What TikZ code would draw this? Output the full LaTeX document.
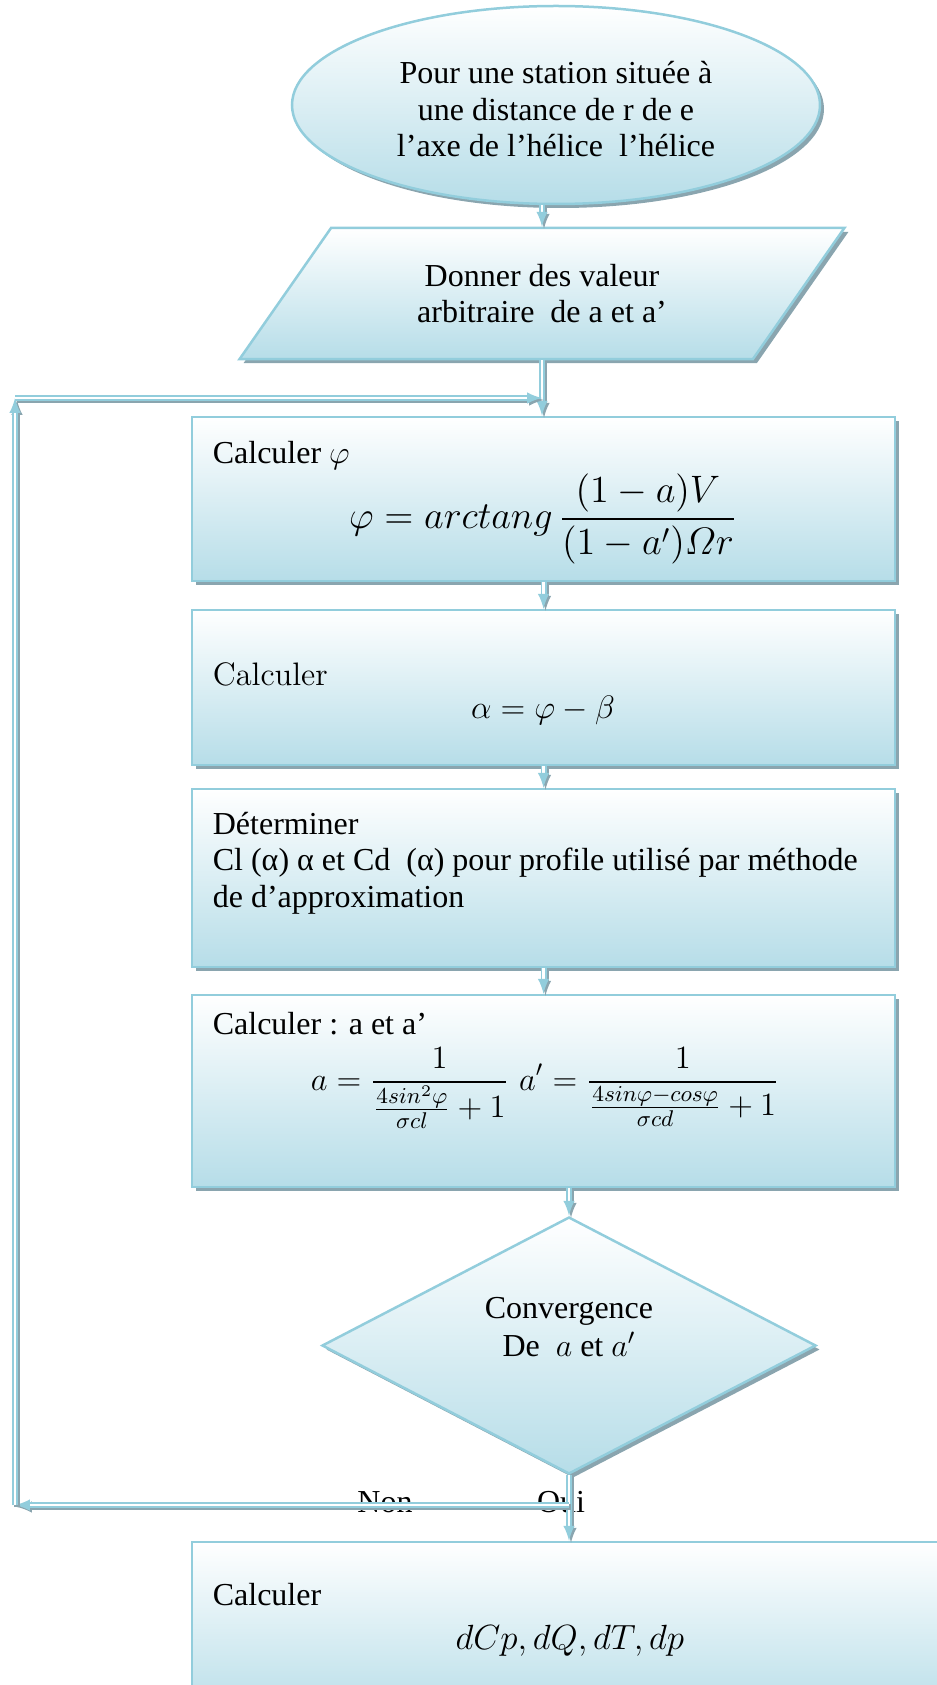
\RequirePackage{fix-cm}
\documentclass[tikz,border=0pt]{standalone}
\usepackage{amsmath}
\usepackage{fontspec}
\newfontfamily\timesfont{Liberation Serif}
\usetikzlibrary{shapes.geometric,shadows}

\definecolor{lineblue}{HTML}{92CDDC}
\definecolor{boxblue}{HTML}{B6DDE8}
\definecolor{shadowgrey}{HTML}{8AA5AF}

\begin{document}
\begin{tikzpicture}[x=0.4pt, y=-0.4pt, >=latex,
  every node/.style={font=\timesfont\fontsize{12.8}{14.6}\selectfont},
  flow/.style={draw=lineblue, line width=1pt, top color=white, bottom color=boxblue,
    drop shadow={shadow xshift=1.6pt, shadow yshift=-1.6pt, fill=shadowgrey, opacity=1}},
  bloc/.style={flow, rectangle, minimum width=281.2pt, inner sep=0pt},
  link/.style={->, draw=lineblue, double=white, double distance=1pt, line width=0.7pt,
    preaction={draw=shadowgrey, double=shadowgrey, transform canvas={shift={(0.8pt,-0.8pt)}}}},
  eq/.style={font=\fontsize{14}{17}\selectfont},
  lbl/.style={anchor=west, align=left}]
  \clip (0,0) rectangle (937,1685);

  % shapes of the flow chart
  \node[flow, ellipse, minimum width=211.2pt, minimum height=79.2pt, inner sep=0pt, align=center] (start) at (556,105)
    {\rule{0pt}{12.5pt}Pour une station située à\\une distance de r de e\\l’axe de l’hélice\ \ l’hélice};
  \node[flow, trapezium, trapezium left angle=47.5, trapezium right angle=132.5, trapezium stretches=true,
    minimum width=242.4pt, minimum height=52.4pt, inner sep=0pt, align=center] (para) at (542,293.5)
    {Donner des valeur\\arbitraire\ \ de a et a’};
  \node[bloc, minimum height=65.6pt] (calc1) at (543.5,499) {};
  \node[bloc, minimum height=62pt] (calc2) at (543.5,687.5) {};
  \node[bloc, minimum height=71.2pt] (det) at (543.5,878) {};
  \node[bloc, minimum height=76.8pt] (calc3) at (543.5,1091) {};
  \node[flow, diamond, aspect=1.92, minimum width=197.6pt, minimum height=102.8pt, inner sep=0pt] (conv) at (569,1345.5) {};
  \node[bloc, minimum width=307.2pt, minimum height=71.2pt] (fin) at (576,1631) {};

  % texts and formulas
  \node[lbl] (t1) at (204,456) {Calculer $\varphi$};
  \node[eq, font=\fontsize{15.3}{18}\selectfont] (f1) at (543,519) {$\displaystyle \varphi = arctang\,\frac{(1-a)V}{(1-a')\varOmega r}$};
  \node[lbl, font=\rmfamily\fontsize{13}{15}\selectfont] (t2) at (204,674) {Calculer};
  \node[eq, font=\fontsize{13}{16}\selectfont] (f2) at (543,710) {$\alpha = \varphi - \beta$};
  \node[lbl] (t3) at (204,863) {Déterminer\\Cl (α) α et Cd\ \ (α) pour profile utilisé par méthode\\de d’approximation};
  \node[lbl] (t4) at (204,1024) {Calculer : a et a’};
  \node[eq, font=\fontsize{13}{16}\selectfont] (f4) at (545,1088) {$\displaystyle a = \frac{1}{\frac{4sin^2\varphi}{\sigma cl}+1}\ a' = \frac{1}{\frac{4sin\varphi-cos\varphi}{\sigma cd}+1}$};
  \node[align=center, font=\timesfont\fontsize{12.8}{15.2}\selectfont] (t5) at (569,1327) {Convergence\\De\ \ $a$ et $a'$};
  \node (non) at (385,1502) {Non};
  \node (oui) at (561,1502) {Oui};
  \node[lbl] (t6) at (204,1595) {Calculer};
  \node[eq] (f6) at (570,1641) {$dCp, dQ, dT, dp$};

  % connectors
  \coordinate (nonend) at (15,1505);
  \coordinate (loopup) at (15,398);
  \draw[link] (start.south -| para.north) -- (para.north);
  \draw[link] (para.south) -- (para.south |- calc1.north);
  \draw[link] (calc1.south) -- (calc2.north);
  \draw[link] (calc2.south) -- (det.north);
  \draw[link] (det.south) -- (calc3.north);
  \draw[link] (calc3.south -| conv.north) -- (conv.north);
  \draw[link] (conv.south) -- (conv.south |- fin.north);
  \draw[link] (conv.south |- nonend) -- (nonend);
  \draw[link] (nonend) -- (loopup);
  \draw[link] (loopup) -- (para.south |- loopup);
\end{tikzpicture}
\end{document}
